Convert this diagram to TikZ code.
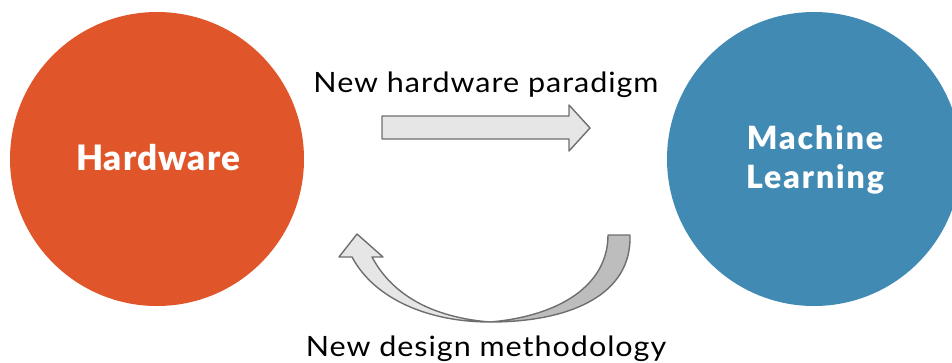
\documentclass[tikz,border=0pt]{standalone}
\usepackage{fontspec}
\setmainfont{Lato}
\newfontfamily\heavyfont{Lato Black}
\definecolor{hwcol}{HTML}{E05529}
\definecolor{mlcol}{HTML}{418AB3}
\definecolor{arlight}{HTML}{E6E6E6}
\definecolor{ardark}{HTML}{BDBDBD}
\definecolor{arline}{HTML}{6E6E6E}
\begin{document}
\begin{tikzpicture}[x=1pt,y=-1pt,
  bigcircle/.style={circle,minimum size=294pt,inner sep=0pt,draw=none},
  circtext/.style={text=white,anchor=base,inner sep=0pt},
  lbl/.style={font=\fontsize{28}{32}\selectfont\addfontfeatures{FakeStretch=1.09,LetterSpace=3.5},text=black,anchor=base,inner sep=0pt},
  blockarrow/.style={draw=arline,line width=1.4pt,line join=round}]
\useasboundingbox (0,0) rectangle (952,362);
\clip (0,0) rectangle (952,362);
\node[bigcircle,fill=hwcol] (hw) at (157,159) {};
\node[bigcircle,fill=mlcol] (ml) at (814,159) {};
\node[circtext,font=\fontsize{35}{40}\selectfont\heavyfont\addfontfeatures{LetterSpace=3}] (hwt) at (158,170) {Hardware};
\node[circtext,font=\fontsize{32}{40}\selectfont\heavyfont\addfontfeatures{LetterSpace=6}] (mlt1) at (815,149) {Machine};
\node[circtext,font=\fontsize{32}{40}\selectfont\heavyfont\addfontfeatures{LetterSpace=6}] (mlt2) at (815,188) {Learning};
\node[lbl] (top) at (486,92) {New hardware paradigm};
\node[lbl] (bot) at (486,356) {New design methodology};
% straight block arrow
\draw[blockarrow,fill=arlight] (382,116) -- (569,116) -- (569,105) -- (590,128) -- (569,151) -- (569,139) -- (382,139) -- cycle;
% curved block arrow: back (dark) part
\draw[blockarrow,fill=ardark] (608,235) -- (630,235) .. controls (632,295) and (570,322) .. (490,322) .. controls (560,316) and (608,285) .. (608,235) -- cycle;
% front (light) part with head
\draw[blockarrow,fill=arlight] (352,257) .. controls (375,300) and (430,322) .. (490,322) .. controls (440,318) and (395,300) .. (372,257) -- (383,257) -- (357,234) -- (339,257) -- cycle;
\end{tikzpicture}
\end{document}
